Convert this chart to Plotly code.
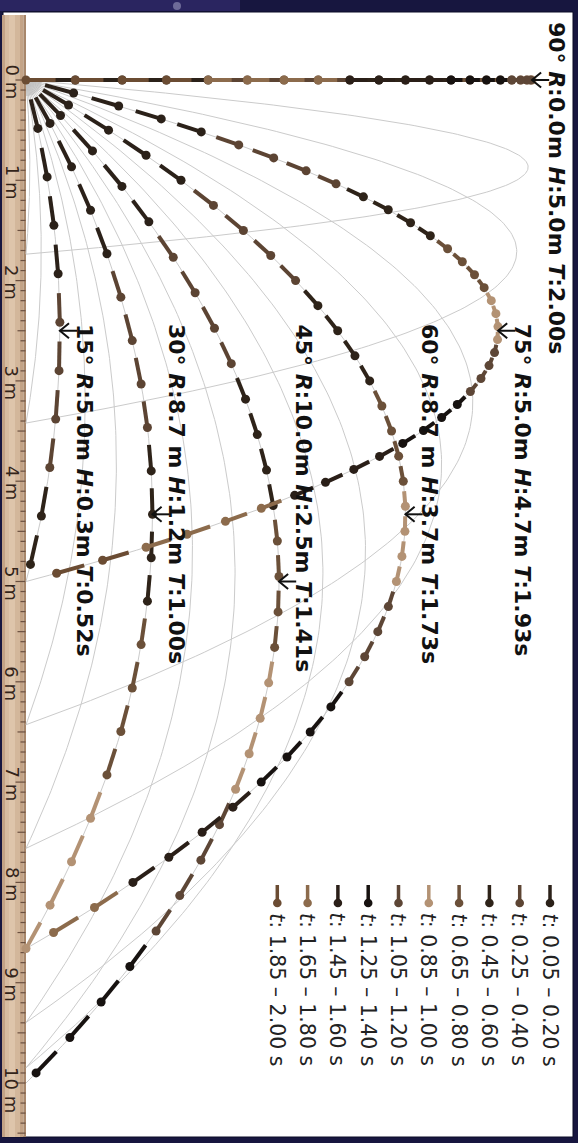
import math
import plotly.graph_objects as go

# ---------------- data ----------------
launch_angles_deg = [15, 30, 45, 60, 75, 90]
launch_speed_mps = 10.0
gravity_mps2 = 10.0
sample_step_s = 0.05
range_labels = ["5.0m", "8.7 m", "10.0m", "8.7 m", "5.0m", "0.0m"]
height_labels = ["0.3m", "1.2m", "2.5m", "3.7m", "4.7m", "5.0m"]
time_labels = ["0.52s", "1.00s", "1.41s", "1.73s", "1.93s", "2.00s"]
guide_angles_deg = [5, 10, 15, 20, 25, 30, 35, 40, 45, 50, 55, 60, 65, 70, 75, 80, 85]
group_starts_s = [0.05, 0.25, 0.45, 0.65, 0.85, 1.05, 1.25, 1.45, 1.65, 1.85]
group_ends_s = [0.20, 0.40, 0.60, 0.80, 1.00, 1.20, 1.40, 1.60, 1.80, 2.00]
ruler_marks_m = [0, 1, 2, 3, 4, 5, 6, 7, 8, 9, 10]

# ---------------- style / layout ----------------
group_colors = ["#2b2119", "#5c4433", "#2e2319", "#6b5039", "#b39274",
                "#5d4636", "#171210", "#2a1f18", "#8c6b4c", "#6b4c33"]
W, H = 578, 1143
X0_PX, SX = 26.0, 101.2      # height axis (horizontal on screen)
Y0_PX, SY = 80.0, 100.3      # distance axis (vertical on screen, downwards)
label_top_px = [322, 322, 322, 322, 322, 20]
legend_x0_px, legend_dx_px = 550.0, -30.3


def hx(px):
    return (px - X0_PX) / SX


def dy(py):
    return (py - Y0_PX) / SY


def pxp(px):
    return px / W


def pyp(py):
    return 1 - py / H


def position(angle_deg, t):
    a = math.radians(angle_deg)
    dist = launch_speed_mps * math.cos(a) * t
    hgt = launch_speed_mps * math.sin(a) * t - 0.5 * gravity_mps2 * t * t
    return dist, max(hgt, 0.0)


def flight_time(angle_deg):
    return 2 * launch_speed_mps * math.sin(math.radians(angle_deg)) / gravity_mps2


fig = go.Figure()

# thin grey guide trajectories
for ang in guide_angles_deg:
    T = flight_time(ang)
    n = 160
    pts = [position(ang, T * i / n) for i in range(n + 1)]
    fig.add_trace(go.Scatter(x=[p[1] for p in pts], y=[p[0] for p in pts], mode="lines",
                             line=dict(color="#cbcbcb", width=1), hoverinfo="skip"))

# launcher blob at origin
blob = [(0.0, 0.0)] + [(0.16 * math.cos(math.radians(k * 3)), 0.16 * math.sin(math.radians(k * 3)))
                       for k in range(31)]
fig.add_trace(go.Scatter(x=[b[0] for b in blob], y=[b[1] for b in blob], mode="lines", fill="toself",
                         fillcolor="rgba(185,185,185,0.55)", line=dict(width=0), hoverinfo="skip"))


def group_of(t):
    for gi, (s, e) in enumerate(zip(group_starts_s, group_ends_s)):
        if s - 1e-9 <= t <= e + 1e-9:
            return gi
    return len(group_starts_s) - 1


# main sampled trajectories
for ang in launch_angles_deg:
    T = flight_time(ang)
    times = [0.0]
    k = 1
    while round(k * sample_step_s, 10) <= T + 1e-9:
        times.append(round(k * sample_step_s, 10))
        k += 1
    pts = [position(ang, t) for t in times]
    for gi in range(len(group_starts_s)):
        sx, sy, mx, my = [], [], [], []
        for i in range(1, len(times)):
            if group_of(times[i]) != gi:
                continue
            d0, h0 = pts[i - 1]
            d1, h1 = pts[i]
            sx += [h0 + 0.4 * (h1 - h0), h1, None]
            sy += [d0 + 0.4 * (d1 - d0), d1, None]
            mx.append(h1)
            my.append(d1)
        if not mx:
            continue
        fig.add_trace(go.Scatter(x=sx, y=sy, mode="lines",
                                 line=dict(color=group_colors[gi], width=4), hoverinfo="skip"))
        fig.add_trace(go.Scatter(x=mx, y=my, mode="markers",
                                 marker=dict(color=group_colors[gi], size=9, line=dict(width=0)),
                                 hoverinfo="skip"))

# apex arrows and labels
annotations = []
for i, ang in enumerate(launch_angles_deg):
    a = math.radians(ang)
    ah = (launch_speed_mps * math.sin(a)) ** 2 / (2 * gravity_mps2)
    ad = launch_speed_mps ** 2 * math.sin(2 * a) / (2 * gravity_mps2)
    fig.add_trace(go.Scatter(
        x=[ah + 0.09, ah, ah + 0.09, None, ah, ah + 0.17],
        y=[ad - 0.075, ad, ad + 0.075, None, ad, ad],
        mode="lines", line=dict(color="#111111", width=2), hoverinfo="skip"))
    txt = "<b>%d° <i>R</i>:%s <i>H</i>:%s <i>T</i>:%s</b>" % (ang, range_labels[i], height_labels[i], time_labels[i])
    annotations.append(dict(x=ah + 0.1, y=dy(label_top_px[i]), xref="x", yref="y", text=txt,
                            showarrow=False, textangle=90, xanchor="left", yanchor="top",
                            font=dict(family="DejaVu Sans", size=22, color="#111111")))

shapes = []
# white panel
shapes.append(dict(type="rect", xref="paper", yref="paper", x0=pxp(3), x1=pxp(573), y0=pyp(1137), y1=pyp(12),
                   fillcolor="white", line=dict(color="#0b0b26", width=1), layer="below"))
# top strip decoration
shapes.append(dict(type="rect", xref="paper", yref="paper", x0=0, x1=pxp(240), y0=pyp(11), y1=1,
                   fillcolor="#2a2560", line=dict(width=0), layer="below"))
shapes.append(dict(type="circle", xref="paper", yref="paper", x0=pxp(173), x1=pxp(181), y0=pyp(10), y1=pyp(2),
                   fillcolor="#6e6b98", line=dict(width=0), layer="below"))
# ruler (strips to mimic gradient)
strips = [(2, 5, "#c2a286"), (5, 9, "#d6bba0"), (9, 15, "#dec5ab"), (15, 20, "#d3b79b"),
          (20, 23.5, "#c3a386"), (23.5, 26, "#a8876b")]
for x0, x1, c in strips:
    shapes.append(dict(type="rect", xref="paper", yref="paper", x0=pxp(x0), x1=pxp(x1), y0=pyp(1137),
                       y1=pyp(15), fillcolor=c, line=dict(width=0), layer="below"))
# ruler ticks every 0.1 m
for k in range(0, 106):
    d = k / 10
    py = Y0_PX + d * SY
    if py > 1136:
        break
    ln = 10 if k % 10 == 0 else (8 if k % 5 == 0 else 5)
    shapes.append(dict(type="line", xref="paper", yref="paper", x0=pxp(25.5 - ln), x1=pxp(25.5),
                       y0=pyp(py), y1=pyp(py), line=dict(color="#6b5040", width=1.2), layer="below"))
for m in ruler_marks_m:
    annotations.append(dict(x=hx(12), y=m + dy(Y0_PX - 18), xref="x", yref="y", text="%d m" % m,
                            showarrow=False, textangle=90, xanchor="center", yanchor="top",
                            font=dict(family="DejaVu Sans", size=18, color="#33241a")))

# manual legend
for gi in range(len(group_starts_s)):
    lx = legend_x0_px + gi * legend_dx_px
    c = group_colors[gi]
    shapes.append(dict(type="line", xref="paper", yref="paper", x0=pxp(lx), x1=pxp(lx),
                       y0=pyp(901), y1=pyp(885), line=dict(color=c, width=3.5)))
    shapes.append(dict(type="circle", xref="paper", yref="paper", x0=pxp(lx - 4.3), x1=pxp(lx + 4.3),
                       y0=pyp(907.3), y1=pyp(898.7), fillcolor=c, line=dict(width=0)))
    txt = "<i>t</i>: %.2f – %.2f s" % (group_starts_s[gi], group_ends_s[gi])
    annotations.append(dict(x=pxp(lx), y=pyp(911), xref="paper", yref="paper", text=txt,
                            showarrow=False, textangle=90, xanchor="center", yanchor="top",
                            font=dict(family="DejaVu Sans", size=20.5, color="#222222")))

fig.update_layout(
    width=W, height=H, margin=dict(l=0, r=0, t=0, b=0),
    paper_bgcolor="#17163f", plot_bgcolor="rgba(0,0,0,0)",
    showlegend=False, shapes=shapes, annotations=annotations,
    xaxis=dict(range=[hx(0), hx(W)], visible=False, fixedrange=True),
    yaxis=dict(range=[dy(H), dy(0)], visible=False, fixedrange=True),
)

fig.write_html("out.html", config={"displayModeBar": False},
               post_script="document.body.style.margin='0';document.body.style.background='#17163f';"
                           "document.documentElement.style.overflow='hidden';")
